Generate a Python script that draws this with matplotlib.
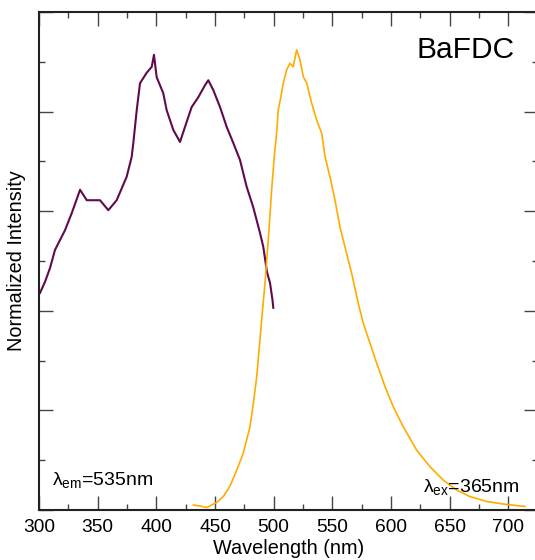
import matplotlib
matplotlib.use('Agg')
import matplotlib.pyplot as plt
from matplotlib.ticker import MultipleLocator, NullFormatter

plt.rcParams['font.family'] = ['Liberation Sans', 'DejaVu Sans']
plt.rcParams['mathtext.fontset'] = 'custom'
plt.rcParams['mathtext.rm'] = 'Liberation Sans'
plt.rcParams['mathtext.it'] = 'Liberation Sans'
plt.rcParams['mathtext.default'] = 'regular'

# excitation spectrum (monitored at 535 nm)
ex_nm = [300.9, 305.1, 309.4, 313.6, 322.2, 327.9, 335.0, 340.7, 352.0, 359.1,
         366.2, 374.7, 379.0, 380.4, 383.3, 386.1, 391.8, 396.1, 398.0, 400.3,
         405.9, 408.8, 414.5, 420.2, 424.4, 430.1, 435.8, 441.5, 444.3, 448.6,
         454.3, 460.0, 465.6, 471.3, 477.0, 482.6, 488.4, 491.2, 494.3, 496.9,
         499.0, 499.7]
ex_int = [0.436, 0.458, 0.486, 0.522, 0.562, 0.596, 0.643, 0.622, 0.622, 0.602,
          0.622, 0.669, 0.709, 0.737, 0.803, 0.857, 0.878, 0.890, 0.914, 0.869,
          0.837, 0.803, 0.763, 0.739, 0.769, 0.809, 0.829, 0.853, 0.863, 0.843,
          0.809, 0.769, 0.737, 0.703, 0.649, 0.608, 0.556, 0.528, 0.478, 0.456,
          0.422, 0.406]

# emission spectrum (excited at 365 nm)
em_nm = [431.5, 437.2, 442.9, 451.5, 457.1, 462.8, 468.5, 474.1, 479.8, 482.7,
         485.6, 489.8, 492.6, 495.4, 498.3, 500.5, 502.5, 503.9, 506.2, 508.2,
         511.1, 513.9, 516.7, 519.6, 522.4, 525.3, 528.2, 532.4, 536.7, 541.0,
         543.8, 548.0, 552.3, 556.5, 560.8, 566.5, 572.1, 576.4, 582.1, 587.8,
         594.9, 602.0, 610.5, 621.9, 633.2, 644.6, 656.0, 667.3, 681.6, 695.7,
         714.2]
em_int = [0.010, 0.008, 0.005, 0.015, 0.027, 0.048, 0.080, 0.114, 0.167, 0.214,
          0.268, 0.382, 0.455, 0.542, 0.643, 0.709, 0.756, 0.803, 0.830, 0.857,
          0.884, 0.897, 0.890, 0.924, 0.904, 0.870, 0.857, 0.817, 0.783, 0.756,
          0.709, 0.669, 0.622, 0.569, 0.528, 0.475, 0.415, 0.375, 0.335, 0.295,
          0.248, 0.207, 0.167, 0.120, 0.087, 0.060, 0.040, 0.027, 0.017, 0.012,
          0.007]

fig = plt.figure(figsize=(5.35, 5.6), dpi=100)
ax = fig.add_axes([0.0729, 0.0893, 0.932, 0.8893])

ax.plot(ex_nm, ex_int, color='#600a4a', linewidth=1.5)
ax.plot(em_nm, em_int, color='#ffab00', linewidth=1.2)

ax.set_xlim(300, 725)
ax.set_ylim(0, 1)
ax.xaxis.set_major_locator(MultipleLocator(50))
ax.xaxis.set_minor_locator(MultipleLocator(25))
ax.yaxis.set_major_locator(MultipleLocator(0.2))
ax.yaxis.set_minor_locator(MultipleLocator(0.1))
ax.yaxis.set_major_formatter(NullFormatter())

ax.tick_params(which='both', direction='in', top=True, right=True,
               color='#444444', width=1.0)
ax.tick_params(which='major', length=10, pad=6.5, labelsize=13.8)
ax.tick_params(which='minor', length=4.5)
for sp in ax.spines.values():
    sp.set_linewidth(1.5)
    sp.set_color('#222222')

ax.set_xlabel('Wavelength (nm)', fontsize=14.3, labelpad=2)
ax.set_ylabel('Normalized Intensity', fontsize=14.3, labelpad=3)

ax.text(621.9, 0.907, 'BaFDC', fontsize=21.5, va='baseline', ha='left')
ax.text(311, 0.05, r'$\lambda_{\mathrm{em}}$=535nm', fontsize=14, va='baseline')
ax.text(627.3, 0.037, r'$\lambda_{\mathrm{ex}}$=365nm', fontsize=14, va='baseline')

fig.savefig('out.png', dpi=100)
